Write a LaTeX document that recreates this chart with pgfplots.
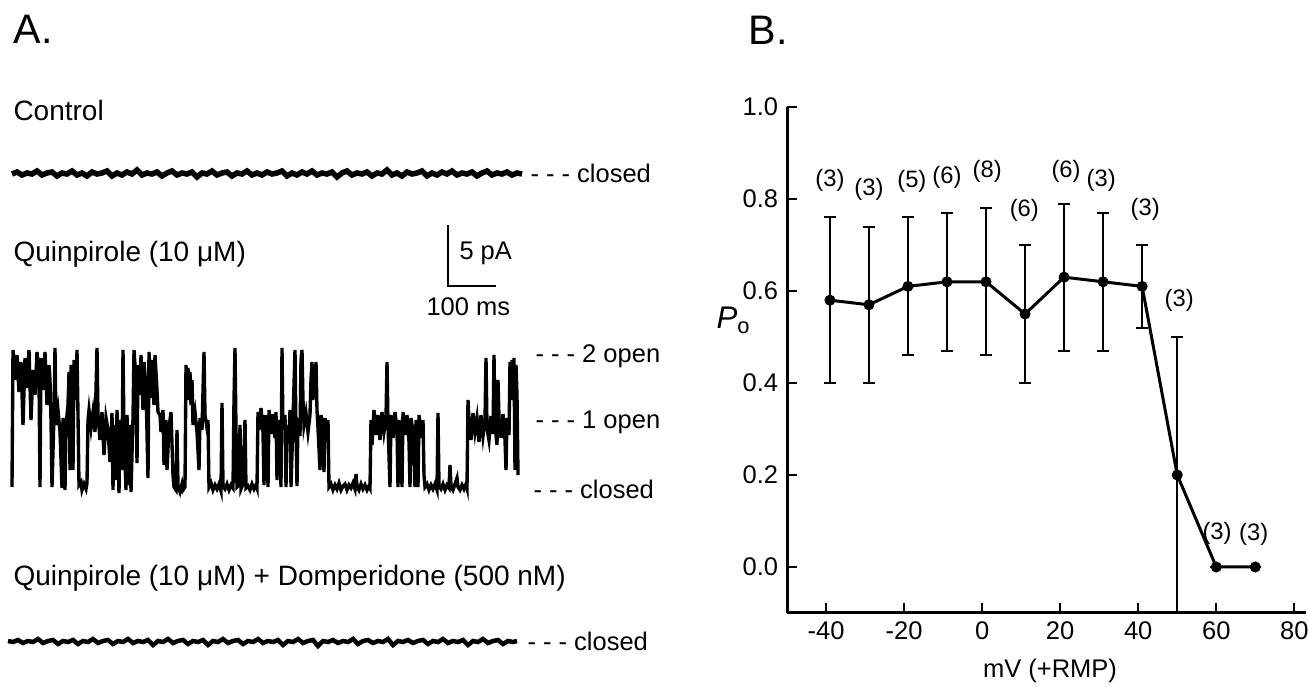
\documentclass[border=0pt]{standalone}
\usepackage{pgfplots}
\pgfplotsset{compat=1.18}
\usepackage{fontspec}
\setmainfont{Liberation Sans}

\newcommand{\fbig}{\fontsize{16.5}{18}\selectfont}
\newcommand{\fmid}{\fontsize{11.2}{13}\selectfont}
\newcommand{\fsm}{\fontsize{10.2}{12}\selectfont}
\newcommand{\flbl}{\fontsize{9.5}{11}\selectfont}

\tikzset{txt/.style={anchor=west, inner sep=0pt}}

\begin{document}
\begin{tikzpicture}
\useasboundingbox (0,0) rectangle (523.2pt,274.8pt);

% panel A: placed in image pixel coordinates (1 px = 0.4pt)
\begin{axis}[at={(0,0)}, anchor=south west,
    width=523.2pt, height=274.8pt, scale only axis,
    xmin=0, xmax=1308, ymin=0, ymax=687, y dir=reverse,
    hide axis, clip=false]

\node[txt, font=\fbig] at (axis cs:13,29) {A.};
\node[txt, font=\fbig] at (axis cs:748,30) {B.};

\node[txt, font=\fmid] at (axis cs:13,110) {Control};
\node[txt, font=\fmid] at (axis cs:13,254) {Quinpirole (10 μM)};
\node[txt, font=\fmid] at (axis cs:13,578) {Quinpirole (10 μM) + Domperidone (500 nM)};

% control trace
\addplot[black, line width=2.2pt] coordinates {
(12,174)(17,172)(22,175)(27,173)(32,174)(37,171)(42,175)(47,173)(52,172)(57,176)
(62,173)(67,174)(72,171)(77,175)(82,173)(87,176)(92,172)(97,174)(102,173)(107,171)
(112,176)(117,173)(122,175)(127,172)(132,174)(137,170)(142,175)(147,173)(152,174)(157,172)
(162,176)(167,173)(172,171)(177,175)(182,173)(187,174)(192,172)(197,177)(202,173)(207,174)
(212,171)(217,175)(222,173)(227,172)(232,176)(237,173)(242,174)(247,171)(252,175)(257,173)
(262,175)(267,172)(272,174)(277,173)(282,171)(287,176)(292,173)(297,175)(302,172)(307,174)
(312,171)(317,175)(322,173)(327,174)(332,172)(337,177)(342,173)(347,171)(352,175)(357,173)
(362,174)(367,172)(372,176)(377,173)(382,174)(387,170)(392,175)(397,173)(402,176)(407,172)
(412,174)(417,173)(422,171)(427,176)(432,173)(437,175)(442,172)(447,174)(452,171)(457,175)
(462,173)(467,174)(472,172)(477,176)(482,173)(487,171)(492,175)(497,173)(502,174)(507,172)
(512,175)(517,173)(522,174)
};
\node[txt, font=\fsm] at (axis cs:530,173) {- - - closed};

% scale bar
\addplot[black, line width=1pt] coordinates {(448,225)(448,286)(496,286)};
\node[txt, font=\fsm] at (axis cs:459,253) {5 pA};
\node[txt, font=\fsm] at (axis cs:426,307) {100 ms};

% quinpirole trace
\addplot[black, line width=1.35pt] coordinates {
(12,487)(13,350)(15,380)(17,355)(19,392)(21,362)(23,425)(25,358)(27,388)(29,350)
(31,420)(33,370)(35,395)(37,352)(39,378)(40,487)(41,358)(43,390)(45,352)(47,405)
(49,365)(50,380)
(51,420)(52,487)(54,415)(55,348)(56,425)(58,410)(60,432)(62,488)(63,418)(65,490)
(66,425)(68,405)(69,372)(70,470)(71,365)(72,395)(73,470)(74,360)(76,400)(77,350)
(78,415)(79,485)(81,482)(82,490)(84,484)(86,489)(87,483)
(88,420)(89,410)(91,428)(93,412)(95,432)(97,348)(98,415)(100,440)(102,412)(104,455)
(106,418)(108,430)(110,462)(112,413)(113,490)(114,425)(116,480)(117,410)(119,493)(120,420)
(122,470)(123,350)(124,430)(126,490)(127,415)(129,485)(130,425)(131,492)(133,418)
(134,350)(136,380)(137,463)(138,365)(140,395)(141,355)(143,410)(144,362)(146,388)(148,478)
(149,352)(151,398)(152,360)(154,405)(155,355)(157,390)(158,412)
(160,415)(161,432)(163,410)(164,465)(166,420)(167,470)(169,428)(171,412)(173,475)
(174,487)(176,490)(177,430)(178,486)(180,492)(182,484)(183,490)(185,487)
(186,365)(187,395)(188,368)(189,400)(190,372)(191,405)(192,380)
(193,425)(195,412)(197,432)(199,470)(200,418)(202,430)(204,352)(205,415)(207,428)(208,420)
(209,487)(211,483)(213,490)(215,485)(217,489)(219,484)(221,491)(222,403)(223,486)(225,489)
(227,484)(229,490)(231,485)(233,488)(234,400)(235,348)(236,430)(237,487)
(239,485)(240,425)(241,489)(243,484)(245,420)(246,488)(248,486)(250,490)(252,484)(254,489)
(256,485)(257,488)
(258,412)(259,430)(261,408)(263,432)(264,485)(265,415)(267,428)(268,487)(269,410)(271,434)
(273,414)(275,438)(276,412)(277,480)
(278,420)(280,440)(281,487)(282,348)(283,430)(285,415)(286,487)(287,425)(289,440)(290,410)
(291,487)(293,420)(295,350)(296,432)(297,486)(298,418)(300,436)(301,360)(302,350)(303,400)
(304,425)
(306,413)(308,432)(310,415)(311,380)(312,362)(313,400)(314,365)(315,395)(316,362)(317,410)
(318,428)(320,470)(321,415)(323,433)(324,472)(325,418)(327,435)(328,420)
(329,487)(331,484)(333,490)(335,485)(337,489)(339,483)(341,490)(343,486)(345,484)(347,490)
(349,485)(351,488)(353,483)(355,489)(356,474)(357,486)(359,490)(361,484)(363,489)(365,485)
(367,490)(369,486)(370,488)
(371,420)(372,445)(374,410)(376,435)(378,415)(380,440)(382,412)(384,432)(386,418)(387,362)
(388,425)(390,487)(391,415)(393,438)(395,412)(397,430)(398,487)(399,420)(401,440)(402,487)
(403,412)(405,435)(407,415)(409,442)(410,487)(411,418)(413,432)(415,487)(416,420)(417,445)
(418,487)(419,415)(421,438)(423,420)(424,475)
(425,487)(427,484)(429,490)(431,485)(433,489)(435,484)(437,490)(438,413)(439,486)(441,489)
(443,484)(445,490)(447,485)(449,488)(450,465)(451,486)(453,490)(455,484)(457,478)(458,487)
(460,490)(462,485)(464,489)(466,484)(467,488)
(468,400)(469,420)(471,440)(473,413)(475,432)(477,418)(479,442)(481,415)(483,436)(485,420)
(486,358)(487,428)(489,440)(491,416)(493,434)(494,355)(495,425)(497,445)(498,380)(499,418)
(501,438)(503,414)(505,440)(506,470)(507,418)(509,435)(510,362)(511,385)(512,360)(513,400)
(514,358)(515,470)(516,365)(517,395)(518,475)
};
\node[txt, font=\fsm] at (axis cs:535,356) {- - - 2 open};
\node[txt, font=\fsm] at (axis cs:535,422) {- - - 1 open};
\node[txt, font=\fsm] at (axis cs:533,489) {- - - closed};

% domperidone trace
\addplot[black, line width=1.8pt] coordinates {
(8,641)(13,642)(18,640)(23,643)(28,641)(33,642)(38,639)(43,643)(48,641)(53,640)
(58,644)(63,641)(68,642)(73,640)(78,644)(83,641)(88,642)(93,639)(98,643)(103,641)
(108,640)(113,644)(118,641)(123,642)(128,639)(133,643)(138,641)(143,642)(148,640)(153,645)
(158,641)(163,642)(168,639)(173,643)(178,641)(183,640)(188,644)(193,641)(198,642)(203,640)
(208,645)(213,641)(218,642)(223,639)(228,643)(233,641)(238,640)(243,644)(248,641)(253,642)
(258,639)(263,643)(268,641)(273,642)(278,640)(283,645)(288,641)(293,642)(298,639)(303,643)
(308,641)(313,640)(318,646)(323,641)(328,642)(333,640)(338,643)(343,641)(348,642)(353,639)
(358,644)(363,641)(368,640)(373,643)(378,641)(383,642)(388,639)(393,645)(398,641)(403,642)
(408,640)(413,643)(418,641)(423,640)(428,644)(433,641)(438,642)(443,639)(448,643)(453,641)
(458,642)(463,640)(468,645)(473,641)(478,642)(483,639)(488,643)(493,641)(498,640)(503,644)
(508,641)(513,642)(517,641)
};
\node[txt, font=\fsm] at (axis cs:527,641) {- - - closed};

% y label of panel B
\node[anchor=base west, inner sep=0pt, font=\fontsize{12.5}{14}\selectfont] at (axis cs:716,329) {\textit{P}\textsubscript{o}};
\node[anchor=center, font=\fsm] at (axis cs:1050,671) {mV (+RMP)};
\end{axis}

% panel B
\begin{axis}[at={(314.8pt,29.6pt)}, anchor=south west,
    width=207.6pt, height=202.4pt, scale only axis,
    xmin=-50, xmax=83, ymin=-0.1, ymax=1.0,
    axis x line=bottom, axis y line=left,
    axis line style={-, line width=1.2pt},
    tick align=inside, major tick length=4pt,
    tick style={line width=0.9pt, black},
    xtick={-40,-20,0,20,40,60,80},
    xticklabels={-40,-20,0,20,40,60,80},
    ytick={0,0.2,0.4,0.6,0.8,1.0},
    yticklabels={0.0,0.2,0.4,0.6,0.8,1.0},
    tick label style={font=\fsm},
    clip=false]
\addplot[black, line width=1.2pt, mark=*, mark size=2pt,
    mark options={fill=black, line width=0.4pt},
    error bars/.cd, y dir=both, y explicit,
    error bar style={line width=0.8pt},
    error mark options={rotate=90, mark size=2.4pt, line width=0.8pt, black}]
coordinates {
(-39,0.58) +- (0,0.18)
(-29,0.57) +- (0,0.17)
(-19,0.61) +- (0,0.15)
(-9,0.62) +- (0,0.15)
(1,0.62) +- (0,0.16)
(11,0.55) +- (0,0.15)
(21,0.63) +- (0,0.16)
(31,0.62) +- (0,0.15)
(41,0.61) +- (0,0.09)
(50,0.20) +- (0,0.30)
(60,0) +- (0,0)
(70,0) +- (0,0)
};
\node[font=\flbl] at (axis cs:-39,0.841) {(3)};
\node[font=\flbl] at (axis cs:-29,0.820) {(3)};
\node[font=\flbl] at (axis cs:-18,0.839) {(5)};
\node[font=\flbl] at (axis cs:-9,0.848) {(6)};
\node[font=\flbl] at (axis cs:1.3,0.861) {(8)};
\node[font=\flbl] at (axis cs:10.8,0.776) {(6)};
\node[font=\flbl] at (axis cs:21.5,0.859) {(6)};
\node[font=\flbl] at (axis cs:30.5,0.841) {(3)};
\node[font=\flbl] at (axis cs:41.8,0.778) {(3)};
\node[font=\flbl] at (axis cs:50.5,0.580) {(3)};
\node[font=\flbl] at (axis cs:60.2,0.074) {(3)};
\node[font=\flbl] at (axis cs:69.6,0.070) {(3)};
\end{axis}
\end{tikzpicture}
\end{document}
